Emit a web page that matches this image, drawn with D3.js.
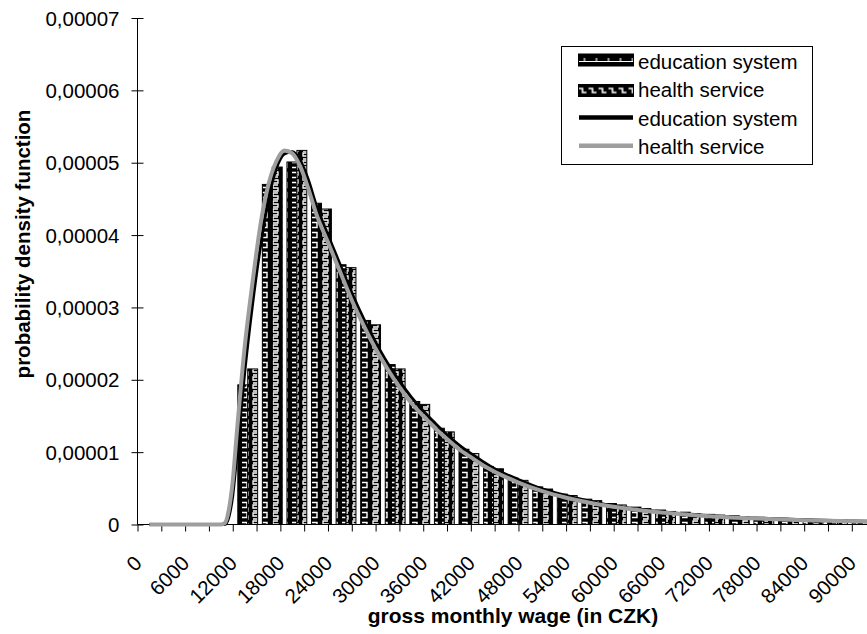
<!DOCTYPE html>
<html><head><meta charset="utf-8">
<script src="https://cdn.jsdelivr.net/npm/d3@7"></script>
<style>body{margin:0;background:#fff} text{font-family:"Liberation Sans",Arial,sans-serif}</style>
</head><body><svg id="c" width="867" height="634"></svg>
<script>
// ---- data (densities in units of 1e-5) ----
const categories = [0,3000,6000,9000,12000,15000,18000,21000,24000,27000,30000,33000,36000,39000,42000,45000,48000,51000,54000,57000,60000,63000,66000,69000,72000,75000,78000,81000,84000,87000,90000];
const educationBars = [0,0,0,0,1.93,4.70,5.01,4.44,3.59,2.82,2.21,1.70,1.33,1.04,0.80,0.64,0.52,0.42,0.35,0.29,0.24,0.20,0.17,0.14,0.12,0.10,0.085,0.072,0.062,0.054,0.047];
const healthBars    = [0,0,0,0,2.15,4.94,5.17,4.36,3.55,2.76,2.15,1.66,1.28,0.98,0.77,0.61,0.49,0.40,0.33,0.27,0.22,0.18,0.15,0.13,0.11,0.09,0.08,0.068,0.058,0.05,0.043];
const curveX = [1500,4500,7500,10500,11000,11500,12000,12500,13500,14500,15500,16500,17500,18500,19500,20500,21500,22500,24000,25500,27000,28500,30000,31500,33000,34500,36000,37500,39000,40500,42000,43500,45000,48000,51000,54000,57000,60000,66000,72000,78000,84000,90000,93000];
const educationCurve = [0,0,0,0,0,0.1,0.4,0.95,2.1,3.05,3.85,4.5,4.92,5.12,5.15,5.03,4.77,4.42,4.0,3.6,3.2,2.84,2.52,2.23,1.98,1.76,1.57,1.4,1.24,1.1,0.98,0.87,0.77,0.62,0.49,0.4,0.32,0.26,0.175,0.122,0.088,0.064,0.048,0.043];
const healthCurve    = [0,0,0,0,0.02,0.2,0.6,1.25,2.45,3.35,4.15,4.7,5.02,5.17,5.13,4.95,4.65,4.3,3.9,3.5,3.1,2.75,2.43,2.15,1.9,1.68,1.5,1.33,1.18,1.04,0.93,0.82,0.73,0.58,0.46,0.37,0.3,0.245,0.165,0.115,0.082,0.06,0.045,0.04];
const yTickValues = [0,1,2,3,4,5,6,7];
const yTickLabels = ["0","0,00001","0,00002","0,00003","0,00004","0,00005","0,00006","0,00007"];
const xTickLabels = ["0","6000","12000","18000","24000","30000","36000","42000","48000","54000","60000","66000","72000","78000","84000","90000"];
const seriesNames = ["education system","health service"];

// ---- layout ----
const svg = d3.select("#c");
const X0 = 137.5, STEP = 23.81, Y0 = 524.5, YTOP = 18;
const FS = 20.5;
const xBand = d3.scaleBand().domain(categories).range([X0, X0 + STEP*(categories.length+1)]).paddingInner(0).paddingOuter(0).align(0);
const xSub = d3.scaleBand().domain(seriesNames).range([0, STEP]).paddingInner(0).paddingOuter(0.2);
const xv = d3.scaleLinear().domain([0, 3000*(categories.length+1)]).range([X0, X0 + STEP*(categories.length+1)]);
const y = d3.scaleLinear().domain([0,7]).range([Y0, YTOP]);

// patterns
const defs = svg.append("defs");
const pe = defs.append("pattern").attr("id","pEdu").attr("patternUnits","userSpaceOnUse").attr("width",10).attr("height",10);
pe.append("rect").attr("width",10).attr("height",10).attr("fill","#000");
pe.append("path").attr("d","M2,2.5 H7 V7.5 H2").attr("fill","none").attr("stroke","#fff").attr("stroke-width",1.4);
const ph = defs.append("pattern").attr("id","pHea").attr("patternUnits","userSpaceOnUse").attr("width",10).attr("height",8);
ph.append("rect").attr("width",10).attr("height",8).attr("fill","#000");
ph.append("path").attr("d","M8,1 H3 V4 H8 V7 H3").attr("fill","none").attr("stroke","#fff").attr("stroke-width",1.3);
// legend swatch patterns
const le = defs.append("pattern").attr("id","lEdu").attr("patternUnits","userSpaceOnUse").attr("width",12).attr("height",12).attr("x",578.5).attr("y",54);
le.append("rect").attr("width",12).attr("height",12).attr("fill","#000");
le.append("path").attr("d","M0,7.5 H12 M6,4 V7.5").attr("stroke","#fff").attr("stroke-width",1.2);
const lh = defs.append("pattern").attr("id","lHea").attr("patternUnits","userSpaceOnUse").attr("width",10).attr("height",12).attr("x",578.5).attr("y",84.5);
lh.append("rect").attr("width",10).attr("height",12).attr("fill","#000");
lh.append("path").attr("d","M0,4 H4 V8 H8").attr("fill","none").attr("stroke","#fff").attr("stroke-width",1.6);
const fills = {"education system":"url(#pEdu)","health service":"url(#pHea)"};
const legendFills = {"education system":"url(#lEdu)","health service":"url(#lHea)"};

// bars
const barData = [];
categories.forEach((c,i)=>{
  barData.push({c, s:seriesNames[0], v:educationBars[i]});
  barData.push({c, s:seriesNames[1], v:healthBars[i]});
});
svg.append("g").selectAll("rect").data(barData.filter(d=>d.v>0)).join("rect")
  .attr("x", d=>xBand(d.c)+xSub(d.s))
  .attr("y", d=>y(d.v))
  .attr("width", xSub.bandwidth())
  .attr("height", d=>Y0-y(d.v))
  .attr("fill", d=>fills[d.s])
  .attr("stroke","#000").attr("stroke-width",1);

// axes
const yAxis = d3.axisLeft(y).tickValues(yTickValues).tickSize(6).tickFormat((d,i)=>yTickLabels[i]);
const gy = svg.append("g").attr("transform",`translate(${X0},0)`).call(yAxis);
gy.select(".domain").attr("d",`M0,${YTOP}V${Y0}`).attr("stroke","#000");
gy.selectAll(".tick line").attr("x1",-6).attr("x2",6).attr("stroke","#000");
gy.selectAll(".tick text").attr("x",-18).attr("dy","0.35em").style("font-size",FS+"px").attr("fill","#000");

const xAxis = d3.axisBottom(xv).tickValues(categories).tickSize(7).tickFormat(d=> d%6000===0 ? xTickLabels[d/6000] : "");
const gx = svg.append("g").attr("transform",`translate(0,${Y0})`).call(xAxis);
gx.select(".domain").attr("d",`M${X0},0H867`).attr("stroke","#000");
gx.selectAll(".tick line").attr("stroke","#000");
gx.selectAll(".tick text").attr("x",0).attr("y",0).attr("dy",0)
  .attr("text-anchor","end").attr("transform","translate(5,40) rotate(-45)")
  .style("font-size",FS+"px").attr("fill","#000");

// curves
const line = d3.line().x((d,i)=>xv(curveX[i])).y(d=>y(d)).curve(d3.curveMonotoneX);
svg.append("path").datum(educationCurve).attr("d",line).attr("fill","none").attr("stroke","#000").attr("stroke-width",3);
svg.append("path").datum(healthCurve).attr("d",line).attr("fill","none").attr("stroke","#9e9e9e").attr("stroke-width",4);

// axis titles
svg.append("text").attr("transform","translate(29.5,244) rotate(-90)").attr("text-anchor","middle")
  .style("font-size",FS+"px").style("font-weight","bold").text("probability density function");
svg.append("text").attr("x",513).attr("y",623).attr("text-anchor","middle")
  .style("font-size","21px").style("font-weight","bold").text("gross monthly wage (in CZK)");

// legend
const lg = svg.append("g");
lg.append("rect").attr("x",561.5).attr("y",46.5).attr("width",251).attr("height",118).attr("fill","#fff").attr("stroke","#000");
const legendItems = [
  {name:seriesNames[0], type:"bar", yc:60, tb:69.3},
  {name:seriesNames[1], type:"bar", yc:90.5, tb:97.3},
  {name:seriesNames[0], type:"line", color:"#000", yc:117.5, tb:126},
  {name:seriesNames[1], type:"line", color:"#9e9e9e", yc:145.8, tb:154.3}
];
legendItems.forEach(it=>{
  if(it.type==="bar"){
    lg.append("rect").attr("x",578.5).attr("y",it.yc-6).attr("width",55).attr("height",12).attr("fill",legendFills[it.name]).attr("stroke","#000");
  } else {
    lg.append("line").attr("x1",579).attr("x2",633).attr("y1",it.yc).attr("y2",it.yc).attr("stroke",it.color).attr("stroke-width",4.5);
  }
  lg.append("text").attr("x",638).attr("y",it.tb).style("font-size",FS+"px").text(it.name);
});
</script></body></html>
